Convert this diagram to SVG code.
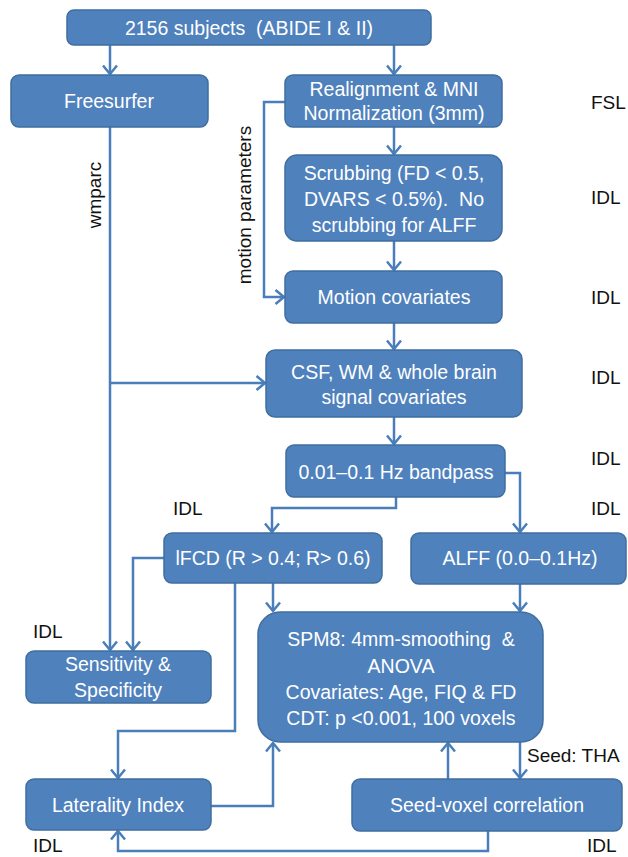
<svg xmlns="http://www.w3.org/2000/svg" width="628" height="857" viewBox="0 0 628 857">
<style>
.box{fill:#4F81BD;stroke:#3F6E9F;stroke-width:1.5}
.bt{font-family:"Liberation Sans",Arial,sans-serif;font-size:19.5px;fill:#fff;text-anchor:middle;white-space:pre}
.lb{font-family:"Liberation Sans",Arial,sans-serif;font-size:19px;fill:#111;white-space:pre}
.cn{fill:none;stroke:#4A7EBB;stroke-width:2.5;stroke-linejoin:miter}
.ar{marker-end:url(#ah)}
</style>
<defs>
<marker id="ah" markerUnits="userSpaceOnUse" markerWidth="16" markerHeight="16" viewBox="0 0 16 16" refX="13" refY="8" orient="auto">
<path d="M4.5,1 L13,8 L4.5,15" fill="none" stroke="#4A7EBB" stroke-width="2.5"/>
</marker>
</defs>
<rect width="628" height="857" fill="#fff"/>
<g id="connectors">
<path class="cn ar" d="M110,45 V74"/>
<path class="cn ar" d="M394,45 V74"/>
<path class="cn ar" d="M394,127 V154"/>
<path class="cn ar" d="M394,241 V270"/>
<path class="cn ar" d="M285,102 H264 V297 H284"/>
<path class="cn ar" d="M394,323 V349"/>
<path class="cn ar" d="M110,127 V650"/>
<path class="cn ar" d="M110,383 H265"/>
<path class="cn ar" d="M394,417 V444"/>
<path class="cn ar" d="M396,497 V508 H272 V532"/>
<path class="cn ar" d="M505,473 H520 V532"/>
<path class="cn ar" d="M164,558 H133 V650"/>
<path class="cn ar" d="M273,583 V611"/>
<path class="cn ar" d="M235,583 V731 H118 V778"/>
<path class="cn ar" d="M520,584 V611"/>
<path class="cn ar" d="M211,806 H273 V743"/>
<path class="cn ar" d="M520,742 V778"/>
<path class="cn ar" d="M448,779 V743"/>
<path class="cn ar" d="M488,831 V851 H118 V831"/>
</g>
<g id="n-subjects"><rect class="box" x="67" y="10" width="364" height="35" rx="7"/><text class="bt" x="249" y="34.5">2156 subjects  (ABIDE I &amp; II)</text></g>
<g id="n-freesurfer"><rect class="box" x="11" y="75" width="197" height="52" rx="8"/><text class="bt" x="109" y="108">Freesurfer</text></g>
<g id="n-realign"><rect class="box" x="285" y="75" width="217" height="52" rx="8"/><text class="bt" x="394" y="96">Realignment &amp; MNI</text><text class="bt" x="394" y="120">Normalization (3mm)</text></g>
<g id="n-scrub"><rect class="box" x="285" y="155" width="217" height="86" rx="12"/><text class="bt" x="394" y="180">Scrubbing (FD &lt; 0.5,</text><text class="bt" x="394" y="206">DVARS &lt; 0.5%).  No</text><text class="bt" x="394" y="232">scrubbing for ALFF</text></g>
<g id="n-motion"><rect class="box" x="285" y="271" width="217" height="52" rx="8"/><text class="bt" x="394" y="304">Motion covariates</text></g>
<g id="n-csf"><rect class="box" x="266" y="350" width="256" height="67" rx="9"/><text class="bt" x="394" y="379">CSF, WM &amp; whole brain</text><text class="bt" x="394" y="404">signal covariates</text></g>
<g id="n-bandpass"><rect class="box" x="286" y="445" width="219" height="52" rx="8"/><text class="bt" x="396" y="479">0.01–0.1 Hz bandpass</text></g>
<g id="n-lfcd"><rect class="box" x="164" y="533" width="218" height="50" rx="8"/><text class="bt" x="273" y="565">lFCD (R &gt; 0.4; R&gt; 0.6)</text></g>
<g id="n-alff"><rect class="box" x="411" y="533" width="215" height="51" rx="8"/><text class="bt" x="520" y="565">ALFF (0.0–0.1Hz)</text></g>
<g id="n-sens"><rect class="box" x="26" y="651" width="185" height="52" rx="8"/><text class="bt" x="118" y="671">Sensitivity &amp;</text><text class="bt" x="118" y="697">Specificity</text></g>
<g id="n-spm"><rect class="box" x="258" y="612" width="285" height="130" rx="22"/><text class="bt" x="401" y="646">SPM8: 4mm-smoothing  &amp;</text><text class="bt" x="401" y="673">ANOVA</text><text class="bt" x="401" y="699">Covariates: Age, FIQ &amp; FD</text><text class="bt" x="401" y="725">CDT: p &lt;0.001, 100 voxels</text></g>
<g id="n-lat"><rect class="box" x="26" y="779" width="185" height="51" rx="8"/><text class="bt" x="118" y="812">Laterality Index</text></g>
<g id="n-seed"><rect class="box" x="352" y="779" width="270" height="52" rx="8"/><text class="bt" x="487" y="812">Seed-voxel correlation</text></g>
<g id="labels">
<text class="lb" transform="translate(101,195) rotate(-90)" text-anchor="middle">wmparc</text>
<text class="lb" transform="translate(251,205) rotate(-90)" text-anchor="middle">motion parameters</text>
<text class="lb" x="591" y="109">FSL</text>
<text class="lb" x="591" y="204">IDL</text>
<text class="lb" x="591" y="304">IDL</text>
<text class="lb" x="591" y="384">IDL</text>
<text class="lb" x="591" y="465">IDL</text>
<text class="lb" x="591" y="515">IDL</text>
<text class="lb" x="173" y="515">IDL</text>
<text class="lb" x="33" y="638">IDL</text>
<text class="lb" x="33" y="852">IDL</text>
<text class="lb" x="587" y="852">IDL</text>
<text class="lb" x="527" y="762">Seed: THA</text>
</g>
</svg>
